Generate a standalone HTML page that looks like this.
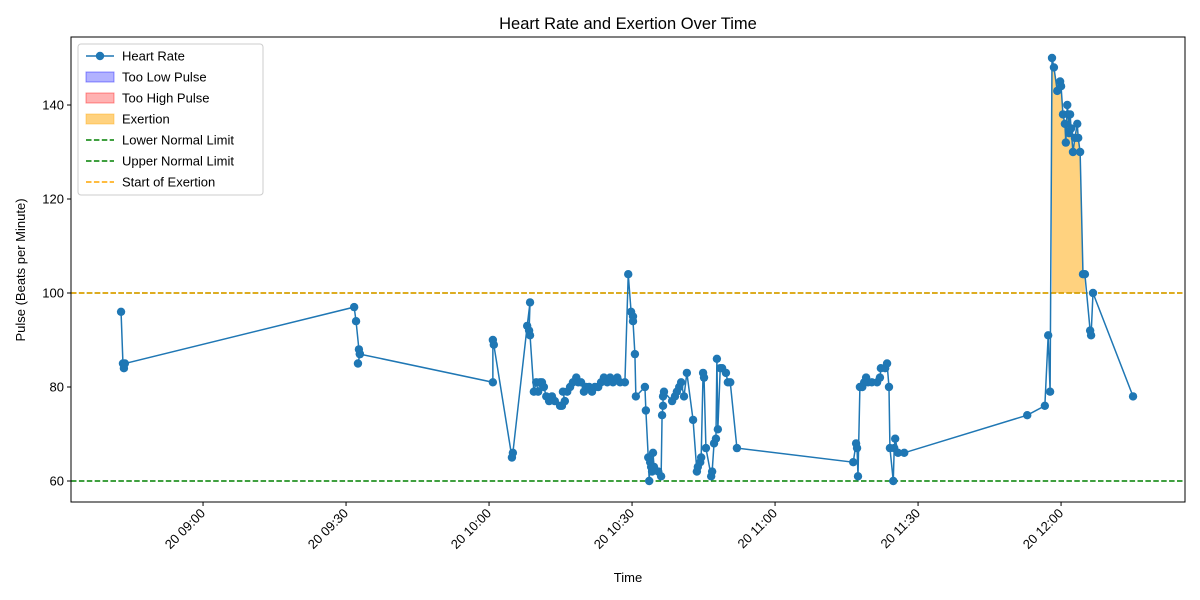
<!DOCTYPE html>
<html><head><meta charset="utf-8"><style>
body{margin:0;background:#fff}
svg{display:block;font-family:"Liberation Sans","DejaVu Sans",sans-serif}
</style></head><body>
<svg id="c" width="1200" height="600"></svg>
<script>
const times=[522.8,523.2,523.4,523.6,571.7,572.1,572.7,572.9,572.5,572.9,600.8,600.8,601.0,604.8,605.0,608.0,608.6,608.4,608.6,609.4,609.9,610.3,610.7,611.1,611.5,612.0,612.6,613.2,613.8,614.9,615.3,615.9,615.5,616.4,617.0,617.6,618.3,618.7,619.3,619.9,620.3,621.0,621.6,622.2,622.9,623.5,624.1,624.8,625.4,626.0,626.9,627.5,628.5,629.2,629.8,630.2,630.2,630.6,630.8,632.7,632.9,633.4,633.6,633.8,634.0,634.2,634.4,634.6,635.5,636.1,636.3,636.5,636.5,636.7,638.4,639.0,639.4,639.9,640.3,640.9,641.5,642.8,643.6,643.8,644.3,644.5,644.9,645.1,645.5,646.6,646.8,647.2,647.6,647.8,648.0,648.5,648.9,649.7,650.1,650.6,652.0,676.4,677.0,677.2,677.4,677.8,678.3,678.7,679.1,679.5,680.3,681.4,682.0,682.2,683.1,683.5,683.9,684.1,684.8,685.0,685.2,685.8,687.1,712.9,716.6,717.3,717.7,718.1,718.5,719.2,719.8,720.0,720.4,720.8,721.0,721.3,721.5,721.7,721.9,722.1,722.5,722.9,723.4,723.6,724.0,724.6,725.0,726.1,726.3,726.7,735.1];
const pulse=[96,85,84,85,97,94,88,87,85,87,81,90,89,65,66,93,98,92,91,79,81,79,81,81,80,78,77,78,77,76,76,77,79,79,80,81,82,81,81,79,80,80,79,80,80,81,82,81,82,81,82,81,81,104,96,95,94,87,78,80,75,65,60,64,63,62,66,63,62,61,74,76,78,79,77,78,79,80,81,78,83,73,62,63,64,65,83,82,67,61,62,68,69,86,71,84,84,83,81,81,67,64,68,67,61,80,80,81,82,81,81,81,82,84,84,85,80,67,60,67,69,66,66,74,76,91,79,150,148,143,145,144,138,136,132,140,138,134,138,135,130,133,136,133,130,104,104,92,91,100,78];
const yTicks=[60,80,100,120,140];
const xTickMins=[540,570,600,630,660,690,720];
const xTickLabels=["20 09:00","20 09:30","20 10:00","20 10:30","20 11:00","20 11:30","20 12:00"];
const lowerLimit=60, upperLimit=100, exertionThreshold=100;
const exertionStart=717.9, exertionEnd=725.2;

const NS="http://www.w3.org/2000/svg";
const svg=document.getElementById('c');
const L=71,R=1185,T=37,B=502;
const xMin=512.3,xMax=746.0,yMin=55.53,yMax=154.47;
const X=m=>L+(m-xMin)/(xMax-xMin)*(R-L);
const Y=v=>B-(v-yMin)/(yMax-yMin)*(B-T);
function mk(tag,attrs,parent){const e=document.createElementNS(NS,tag);for(const k in attrs)e.setAttribute(k,attrs[k]);(parent||svg).appendChild(e);return e;}

// exertion fill
let pts=[];
for(let i=0;i<times.length;i++){if(times[i]>=exertionStart&&times[i]<=exertionEnd&&pulse[i]>exertionThreshold)pts.push([times[i],pulse[i]]);}
if(pts.length){let d=`M${X(pts[0][0])},${Y(exertionThreshold)}`;pts.forEach(p=>d+=` L${X(p[0])},${Y(p[1])}`);d+=` L${X(pts[pts.length-1][0])},${Y(exertionThreshold)}Z`;
const f=mk('path',{d,fill:'#ffa500','fill-opacity':0.5});

}

// reference lines
[[lowerLimit,'green','lower-normal-limit'],[upperLimit,'green','upper-normal-limit'],[exertionThreshold,'#ffa500','start-of-exertion-line']].forEach(r=>{
const l=mk('line',{x1:L,x2:R,y1:Y(r[0]),y2:Y(r[0]),stroke:r[1],'stroke-width':1.5,'stroke-dasharray':'5.5,2.4'});

});

// line
const line=mk('polyline',{points:times.map((t,i)=>X(t)+','+Y(pulse[i])).join(' '),fill:'none',stroke:'#1f77b4','stroke-width':1.5});


times.forEach((t,i)=>{const c=mk('circle',{cx:X(t),cy:Y(pulse[i]),r:4.2,fill:'#1f77b4'});

});

// axes frame
const fr=mk('rect',{x:L,y:T,width:R-L,height:B-T,fill:'none',stroke:'#000','stroke-width':1});



yTicks.forEach(v=>{mk('line',{x1:L-4,x2:L,y1:Y(v),y2:Y(v),stroke:'#000'});
const t=mk('text',{x:L-7,y:Y(v)+4.5,'text-anchor':'end','font-size':13});t.textContent=v;

});
xTickMins.forEach((m,i)=>{const x=X(m);mk('line',{x1:x,x2:x,y1:B,y2:B+4,stroke:'#000'});
const t=mk('text',{x:x+3,y:B+12,'text-anchor':'end','font-size':13,transform:`rotate(-45 ${x+3} ${B+12})`});t.textContent=xTickLabels[i];

});

const title=mk('text',{x:628,y:29,'text-anchor':'middle','font-size':16.5});title.textContent='Heart Rate and Exertion Over Time';


const xl=mk('text',{x:628,y:582,'text-anchor':'middle','font-size':13});xl.textContent='Time';


const yl=mk('text',{x:25,y:270,'text-anchor':'middle','font-size':13,transform:'rotate(-90 25 270)'});yl.textContent='Pulse (Beats per Minute)';



// legend
const lg=mk('g',{});


mk('rect',{x:78,y:44,width:185,height:151,rx:3,fill:'#fff','fill-opacity':0.8,stroke:'#ccc'},lg);
const items=[['line','Heart Rate'],['patch','Too Low Pulse','#0000ff'],['patch','Too High Pulse','#ff0000'],['patch','Exertion','#ffa500'],['dash','Lower Normal Limit','green'],['dash','Upper Normal Limit','green'],['dash','Start of Exertion','#ffa500']];
items.forEach((it,i)=>{const y=56+i*21;const g=mk('g',{},lg);


if(it[0]=='line'){mk('line',{x1:86,x2:114,y1:y,y2:y,stroke:'#1f77b4','stroke-width':1.5},g);mk('circle',{cx:100,cy:y,r:4.2,fill:'#1f77b4'},g);}
else if(it[0]=='patch'){mk('rect',{x:86,y:y-5,width:28,height:10,fill:it[2],'fill-opacity':it[2]=='#ffa500'?0.5:0.3,stroke:it[2],'stroke-opacity':0.4},g);}
else{mk('line',{x1:86,x2:114,y1:y,y2:y,stroke:it[2],'stroke-width':1.5,'stroke-dasharray':'5.5,2.4'},g);}
const t=mk('text',{x:122,y:y+4.5,'font-size':13},g);t.textContent=it[1];});
</script>
</body></html>
